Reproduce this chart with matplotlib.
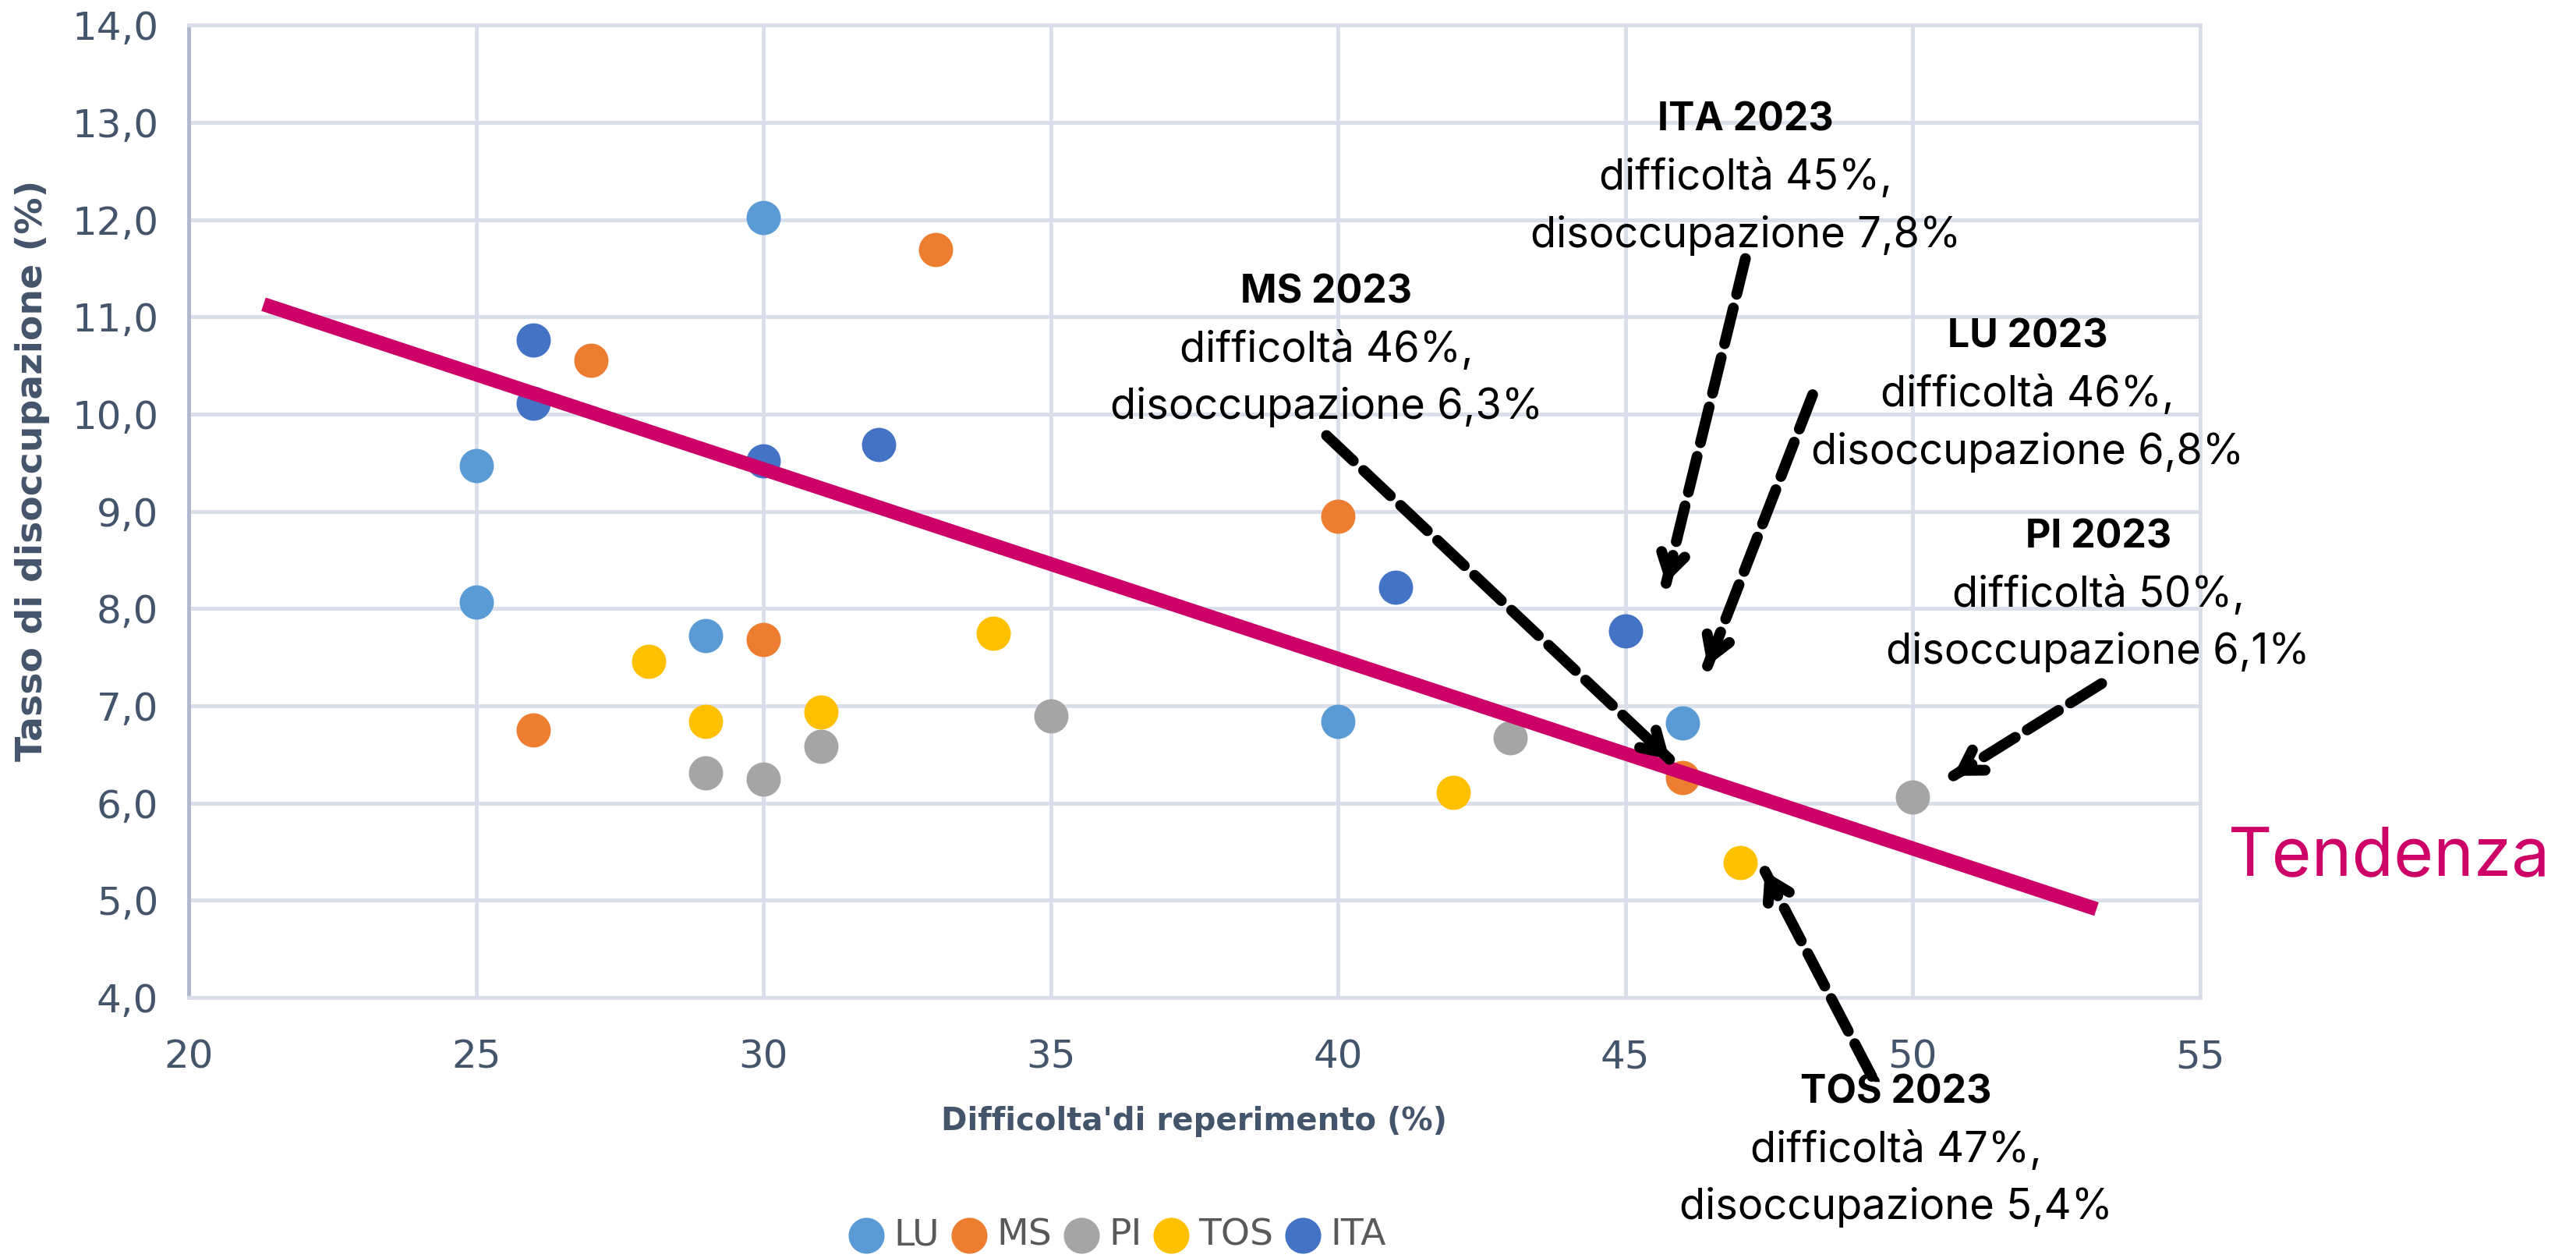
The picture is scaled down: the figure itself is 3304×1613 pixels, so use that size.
import numpy as np
import matplotlib.pyplot as plt

# data
series = ['LU', 'MS', 'PI', 'TOS', 'ITA']
colors = ['#5B9BD5', '#ED7D31', '#A5A5A5', '#FFC000', '#4472C4']
lu_x = [30, 25, 25, 29, 40, 46]
lu_y = [12.02, 9.47, 8.07, 7.72, 6.84, 6.82]
ms_x = [33, 27, 26, 30, 40, 46]
ms_y = [11.69, 10.55, 6.75, 7.68, 8.95, 6.26]
pi_x = [29, 30, 31, 35, 43, 50]
pi_y = [6.31, 6.25, 6.58, 6.90, 6.67, 6.06]
tos_x = [28, 29, 31, 34, 42, 47]
tos_y = [7.46, 6.84, 6.94, 7.75, 6.11, 5.39]
ita_x = [26, 26, 30, 32, 41, 45]
ita_y = [10.76, 10.11, 9.52, 9.69, 8.22, 7.77]

trend_x = [21.3, 53.2]
trend_y = [11.13, 4.91]

# annotations: title, values, text anchor (x, y), arrow tail, arrow head
ann_titles = ['ITA 2023', 'MS 2023', 'LU 2023', 'PI 2023', 'TOS 2023']
ann_diff = ['45%', '46%', '46%', '50%', '47%']
ann_dis = ['7,8%', '6,3%', '6,8%', '6,1%', '5,4%']
ann_pos = [(47.09, 13.02), (39.8, 11.25), (52.0, 10.79), (53.23, 8.73), (49.71, 3.02)]
arrow_tail = [(47.09, 11.60), (39.8, 9.78), (48.26, 10.20), (53.29, 7.23), (49.29, 3.19)]
arrow_head = [(45.71, 8.26), (45.77, 6.45), (46.43, 7.41), (50.71, 6.28), (47.43, 5.30)]

tick_font = ['DejaVu Sans']
ann_font = ['Inter', 'DejaVu Sans']
slate = '#44546A'
gridc = '#D9DEEA'

fig = plt.figure(figsize=(33.04, 16.13), dpi=100)
ax = fig.add_axes([0.0733, 0.207, 0.7807, 0.773])

xs = [lu_x, ms_x, pi_x, tos_x, ita_x]
ys = [lu_y, ms_y, pi_y, tos_y, ita_y]
for name, c, x, y in zip(series, colors, xs, ys):
    ax.scatter(x, y, s=1000, color=c, label=name, zorder=3, linewidths=0)

ax.plot(trend_x, trend_y, color='#CC0066', lw=13, zorder=4, solid_capstyle='butt')

ax.set_xlim(20, 55)
ax.set_ylim(4, 14)
ax.set_xticks(np.arange(20, 56, 5))
ax.set_yticks(np.arange(4, 14.1, 1))
ax.set_yticklabels([f'{v:.1f}'.replace('.', ',') for v in np.arange(4, 14.1, 1)])
ax.grid(True, color=gridc, lw=3.5, zorder=0)
ax.set_axisbelow(True)
ax.tick_params(length=0, labelsize=36, labelcolor=slate)
ax.tick_params(axis='x', pad=38)
ax.tick_params(axis='y', pad=28)
for s in ['top', 'right', 'bottom']:
    ax.spines[s].set_color(gridc)
    ax.spines[s].set_linewidth(3.5)
ax.spines['left'].set_color('#ADB9CA')
ax.spines['left'].set_linewidth(3.5)

fig.text(0.4635, 0.1085, "Difficolta'di reperimento (%)", ha='center', va='center',
         fontsize=29, fontweight='bold', color=slate)
fig.text(0.0127, 0.626, 'Tasso di disoccupazione (%)', ha='center', va='center',
         rotation=90, fontsize=34, fontweight='bold', color=slate)

# annotations
for t, d, u, p, tail, head in zip(ann_titles, ann_diff, ann_dis, ann_pos, arrow_tail, arrow_head):
    ax.text(p[0], p[1], t, ha='center', va='center', fontsize=36, fontweight='bold',
            family=ann_font, clip_on=False, zorder=6)
    ax.text(p[0], p[1] - 0.59, 'difficoltà ' + d + ',', ha='center', va='center',
            fontsize=39, family=ann_font, clip_on=False, zorder=6)
    ax.text(p[0], p[1] - 1.18, 'disoccupazione ' + u, ha='center', va='center',
            fontsize=39, family=ann_font, clip_on=False, zorder=6)
    ax.annotate('', xy=head, xytext=tail, annotation_clip=False, zorder=5,
                arrowprops=dict(arrowstyle='-', lw=10, color='black',
                                linestyle=(0, (3.4, 1.3)), shrinkA=0, shrinkB=0))
    near = (head[0] + 0.06 * (tail[0] - head[0]), head[1] + 0.06 * (tail[1] - head[1]))
    ax.annotate('', xy=head, xytext=near, annotation_clip=False, zorder=5,
                arrowprops=dict(arrowstyle='->,head_length=1.8,head_width=1.1', lw=10,
                                color='black', shrinkA=0, shrinkB=0,
                                capstyle='round', joinstyle='round'))

ax.text(58.29, 5.44, 'Tendenza', ha='center', va='center', fontsize=63,
        color='#CC0066', family=ann_font, clip_on=False)

leg = fig.legend(loc='center', bbox_to_anchor=(0.434, 0.018), ncol=5, frameon=False,
                 handlelength=0.9, handletextpad=0.3, columnspacing=0.35, markerscale=1.05,
                 prop={'family': tick_font, 'size': 34})
for txt in leg.get_texts():
    txt.set_color('#595959')

fig.savefig('out.png', dpi=100)
